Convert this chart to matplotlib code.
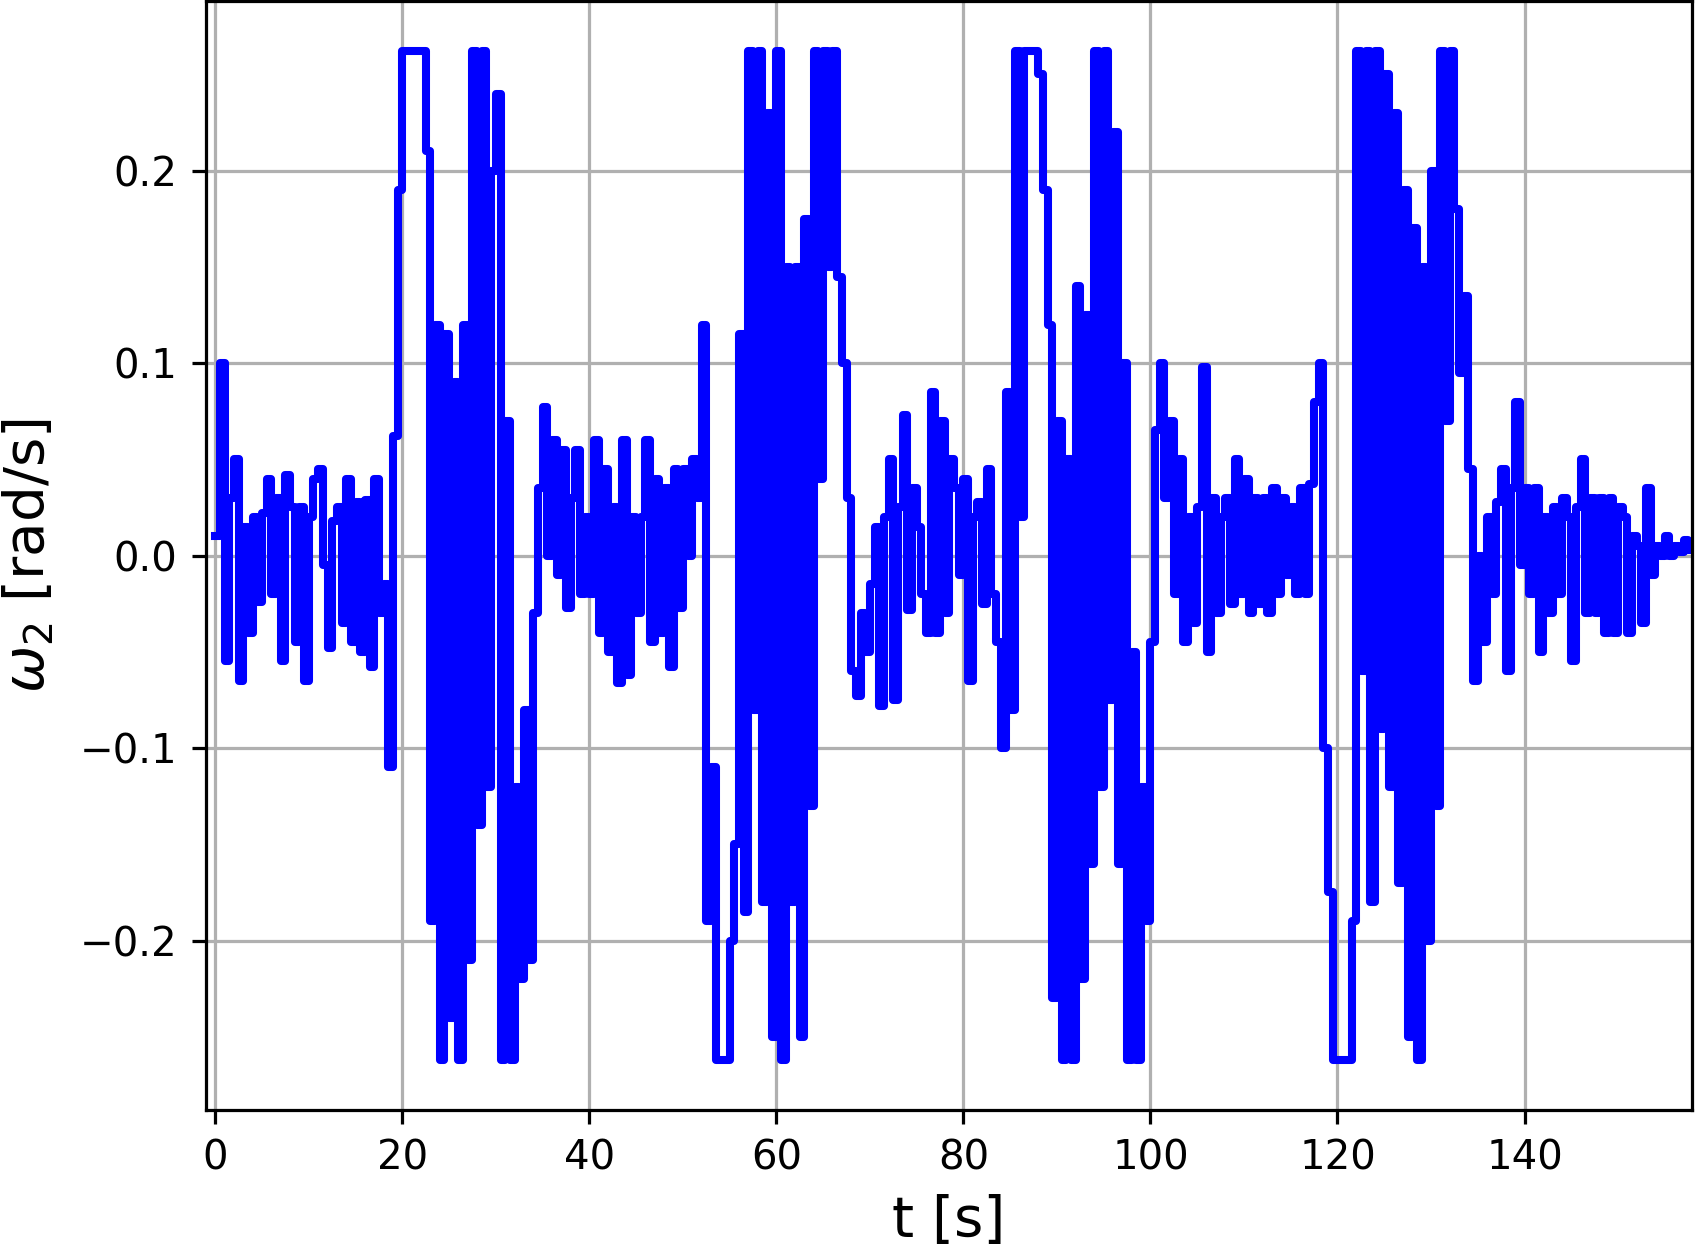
import numpy as np
import matplotlib
matplotlib.use('Agg')
import matplotlib.pyplot as plt

dt = 0.5  # sample spacing of the read-off signal [s]

# omega_2 [rad/s], one list per phase of the run
w_quiet1 = [0.01, 0.1, -0.055, 0.03, 0.05, -0.065, 0.015, -0.04, 0.02, -0.024,
            0.022, 0.04, -0.02, 0.03, -0.055, 0.042, 0.025, -0.045, 0.025, -0.065,
            0.02, 0.04, 0.045, -0.005, -0.048, 0.018, 0.025, -0.035, 0.04, -0.045,
            0.028, -0.05, 0.029, -0.058, 0.04, -0.03]
w_burst1 = [-0.015, -0.11, 0.062, 0.19, 0.262, 0.262, 0.262, 0.262, 0.262, 0.21,
            -0.19, 0.12, -0.262, 0.115, -0.24, 0.09, -0.262, 0.12, -0.21, 0.262,
            -0.14, 0.262, -0.12, 0.2, 0.24, -0.262, 0.07, -0.262, -0.12, -0.22,
            -0.08, -0.21, -0.03, 0.035, 0.077]
w_quiet2 = [0.0, 0.06, -0.01, 0.055, -0.027, 0.03, 0.055, -0.02, 0.02, -0.02,
            0.06, -0.04, 0.045, -0.05, 0.025, -0.066, 0.06, -0.062, 0.02, -0.03,
            0.02, 0.06, -0.045, 0.04, -0.04, 0.035, -0.058, 0.045, -0.027, 0.045,
            0.0, 0.05, 0.03]
w_burst2 = [0.12, -0.19, -0.11, -0.262, -0.262, -0.262, -0.2, -0.15, 0.115, -0.185,
            0.262, -0.08, 0.262, -0.18, 0.23, -0.25, 0.262, -0.262, 0.15, -0.18,
            0.15, -0.25, 0.175, -0.13, 0.262, 0.04, 0.262, 0.15, 0.262, 0.145,
            0.1, 0.03, -0.06, -0.073]
w_quiet3 = [-0.03, -0.05, -0.015, 0.015, -0.078, 0.02, 0.05, -0.075, 0.025, 0.073,
            -0.028, 0.035, 0.015, -0.02, -0.04, 0.085, -0.04, 0.07, -0.03, 0.05,
            0.035, -0.01, 0.04, -0.065, 0.02, 0.028, -0.025, 0.045, -0.02, -0.045,
            -0.1, 0.085]
w_burst3 = [-0.08, 0.262, 0.02, 0.262, 0.262, 0.262, 0.25, 0.19, 0.12, -0.23,
            0.07, -0.262, 0.05, -0.262, 0.14, -0.22, 0.125, -0.16, 0.262, -0.12,
            0.262, -0.075, 0.22, -0.16, 0.1, -0.262, -0.05, -0.262, -0.12, -0.19,
            -0.045]
w_quiet4 = [0.065, 0.1, 0.03, 0.07, -0.02, 0.05, -0.045, 0.02, -0.035, 0.025,
            0.098, -0.05, 0.03, -0.03, 0.02, 0.03, -0.025, 0.05, -0.02, 0.04,
            -0.03, 0.03, -0.025, 0.03, -0.03, 0.035, -0.02, 0.03, -0.01, 0.025,
            -0.02, 0.035, -0.02, 0.037, 0.08]
w_burst4 = [0.1, -0.1, -0.175, -0.262, -0.262, -0.262, -0.262, -0.19, 0.262, -0.06,
            0.262, -0.18, 0.262, -0.09, 0.25, -0.12, 0.23, -0.17, 0.19, -0.25,
            0.17, -0.262, 0.15, -0.2, 0.2, -0.13, 0.262, 0.07, 0.262, 0.18,
            0.095, 0.135, 0.045, -0.065]
w_quiet5 = [0.0, -0.045, 0.02, -0.02, 0.028, 0.045, -0.06, 0.035, 0.08, -0.005,
            0.035, -0.02, 0.035, -0.05, 0.02, -0.03, 0.025, -0.02, 0.03, 0.02,
            -0.055, 0.025, 0.05, -0.03, 0.03, -0.03, 0.03, -0.04, 0.03, -0.04,
            0.025, 0.02, -0.04, 0.01, 0.005, -0.035, 0.035, -0.01, 0.005, 0.0,
            0.01, 0.0, 0.005, 0.002, 0.008, 0.003, 0.005]

w2 = np.concatenate([w_quiet1, w_burst1, w_quiet2, w_burst2, w_quiet3,
                     w_burst3, w_quiet4, w_burst4, w_quiet5])
t = np.arange(len(w2)) * dt

fig = plt.figure(figsize=(1696 / 290, 1249 / 290), dpi=290)
ax = fig.add_axes([0.1212, 0.1113, 0.8764, 0.8877])
ax.plot(t, w2, color='b', linewidth=2.0, drawstyle='steps-post')
ax.set_xlim(-1.04, 157.9)
ax.set_ylim(-0.288, 0.288)
ax.set_xlabel('t [s]', fontsize=14)
ax.set_ylabel(r'$\omega_2$ [rad/s]', fontsize=14, labelpad=6)
ax.grid()
fig.savefig('out.png', dpi=290)
